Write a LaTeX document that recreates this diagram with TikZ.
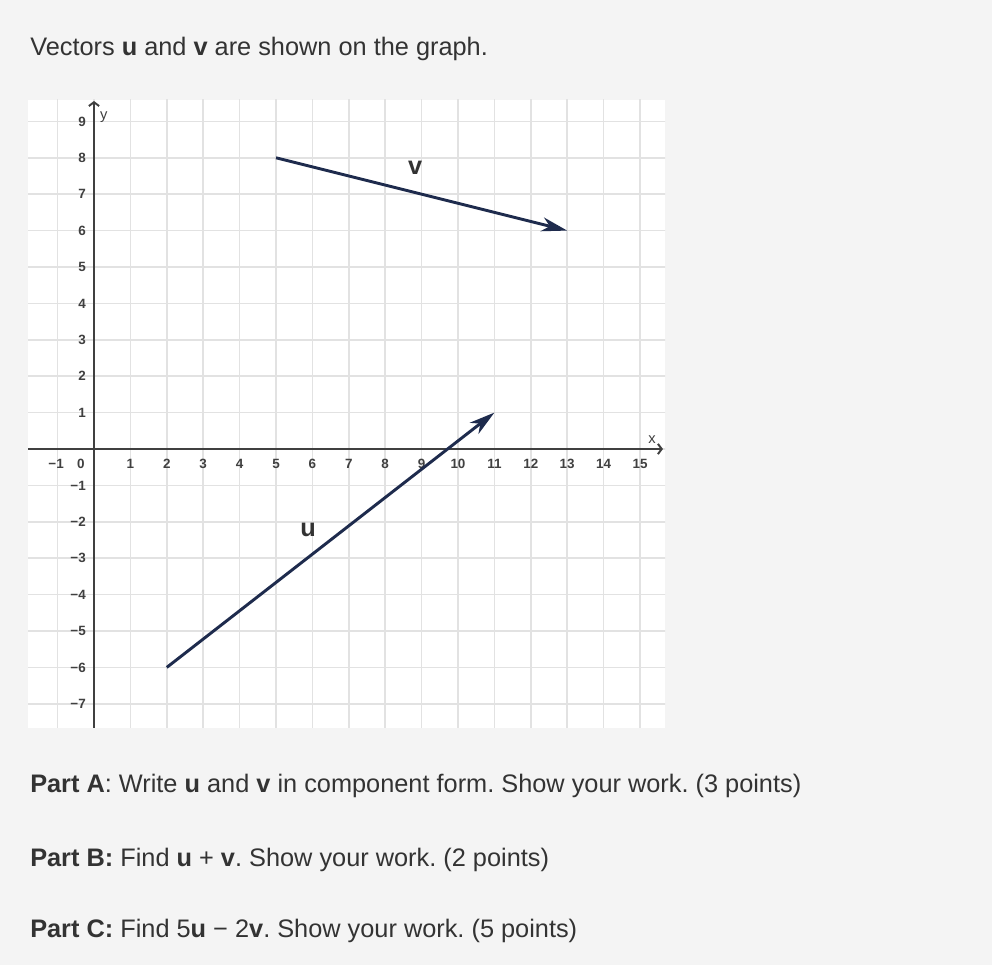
\documentclass[tikz,border=0pt]{standalone}
\usepackage{fontspec}
\setmainfont{Liberation Sans}
\usetikzlibrary{arrows.meta}
\definecolor{pagebg}{HTML}{F4F4F4}
\definecolor{gridcolor}{HTML}{E2E2E2}
\definecolor{veccolor}{HTML}{1E2B4D}
\definecolor{textcolor}{HTML}{333333}
\newcommand{\xlo}{-1.81}
\newcommand{\xhi}{15.69}
\newcommand{\ylo}{-7.66}
\newcommand{\yhi}{9.59}
\newcommand{\bodyfont}{\fontsize{19.8}{23}\selectfont\frenchspacing}
\newcommand{\tickfont}{\fontsize{10.5}{12}\selectfont\bfseries}

\begin{document}
\begin{tikzpicture}[x=1cm, y=1cm,
    vec/.style={line width=2.3pt, draw=veccolor, -{Stealth[length=20pt, width=11pt, inset=6pt]}},
    axis/.style={line width=1.5pt, draw=black!75, -{Straight Barb[length=3pt, width=8pt]}},
    tick/.style={font=\tickfont, text=black!75, inner sep=0pt},
    body/.style={font=\bodyfont, text=textcolor, anchor=base west, inner sep=0pt}]
        \useasboundingbox (-2.582, -14.176) rectangle (24.67, 12.335);
        \fill[pagebg] (-2.582, -14.176) rectangle (24.67, 12.335);

        % grid
        \fill[white] (\xlo, \ylo) rectangle (\xhi, \yhi);
        \begin{scope}
            \clip (\xlo, \ylo) rectangle (\xhi, \yhi);
            \draw[gridcolor, line width=1.2pt] (-2, -8) grid (16, 10);
        \end{scope}

        % axes
        \coordinate (xS) at (\xlo, 0);
        \coordinate (xE) at (15.63, 0);
        \coordinate (yS) at (0, \ylo);
        \coordinate (yE) at (0, 9.56);
        \draw[axis] (xS) -- (xE);
        \draw[axis] (yS) -- (yE);
        \node[font=\fontsize{11.5}{12}\selectfont, text=black!75] (xname) at (15.33, 0.25) {x};
        \node[font=\fontsize{11.5}{12}\selectfont, text=black!75] (yname) at (0.27, 9.12) {y};

        % ticks
        \foreach \n in {1,...,15}
            \node[tick] (xt\n) at (\n, -0.4) {\n};
        \node[tick] (xtm1) at (-1.04, -0.4) {−1};
        \node[tick] (zero) at (-0.36, -0.4) {0};
        \foreach \n in {1,...,9}
            \node[tick, anchor=east] (yt\n) at (-0.22, \n) {\n};
        \foreach \n in {1,...,7}
            \node[tick, anchor=east] (ytm\n) at (-0.22, -\n) {−\n};

        % vectors
        \coordinate (uS) at (2, -6);
        \coordinate (uE) at (11, 1);
        \coordinate (vS) at (5, 8);
        \coordinate (vE) at (13, 6);
        \draw[vec] (uS) -- (uE);
        \draw[vec] (vS) -- (vE);
        \node[font=\bodyfont\bfseries, text=textcolor] (ulabel) at (5.88, -2.23) {u};
        \node[font=\bodyfont\bfseries, text=textcolor] (vlabel) at (8.82, 7.72) {v};

        % text
        \node[body] (intro) at (-1.758, 10.80) {Vectors \textbf{u} and \textbf{v} are shown on the graph.};
        \node[body] (partA) at (-1.758, -9.45) {\textbf{Part A}: Write \textbf{u} and \textbf{v} in component form. Show your work. (3 points)};
        \node[body] (partB) at (-1.758, -11.48) {\textbf{Part B:} Find \textbf{u} + \textbf{v}. Show your work. (2 points)};
        \node[body] (partC) at (-1.758, -13.43) {\textbf{Part C:} Find 5\textbf{u} − 2\textbf{v}. Show your work. (5 points)};
\end{tikzpicture}
\end{document}
